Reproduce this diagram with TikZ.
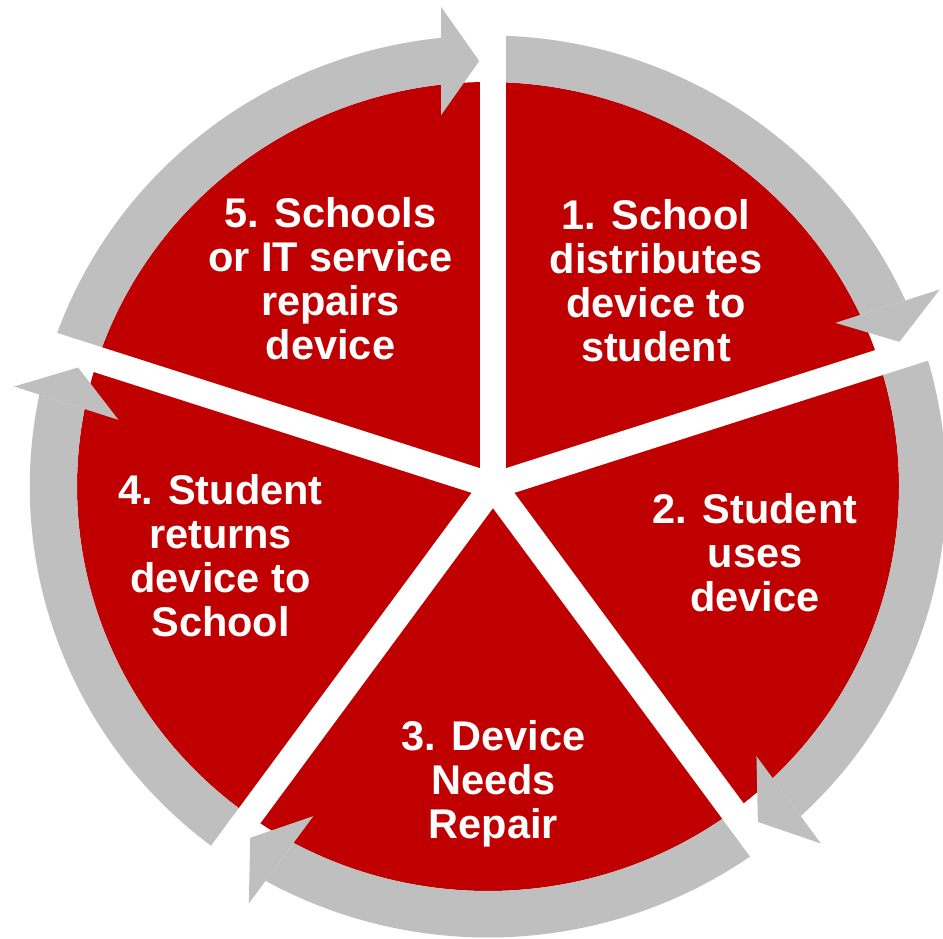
\documentclass[tikz,border=0pt]{standalone}
\usepackage{fontspec}
\setmainfont{Liberation Sans}
\definecolor{slicered}{RGB}{192,0,0}
\definecolor{ringgrey}{RGB}{191,191,191}
\begin{document}
\begin{tikzpicture}[x=1pt,y=-1pt,
  steptext/.style={text=white, font=\fontsize{41.5}{44}\selectfont\bfseries,
    align=center, inner sep=0pt, anchor=base}]
\useasboundingbox (0,0) rectangle (943,939);
% pie, circular arrows and the white separators (y upwards inside)
\begin{scope}[shift={(488,486.5)}, xscale=1.016, x=1pt, y=1pt]
  \fill[slicered] (0,0) circle[radius=404.5];
  \foreach \g in {90,18,-54,-126,-198} {
    % ring segment that ends at the back of its arrowhead
    \begin{scope}
      \clip[shift={(4.9,0.5)}, rotate=\g] (-600,51) rectangle (600,600);
      \fill[ringgrey] (\g:451) arc[start angle=\g, end angle=\g+72, radius=451]
        -- (\g+72:404.5) arc[start angle=\g+72, end angle=\g, radius=404.5] -- cycle;
    \end{scope}
    % arrowhead
    \fill[ringgrey, shift={(4.9,0.5)}, rotate=\g]
      (425,13.5) -- (371,51) -- (479,51) -- cycle;
  }
  \foreach \g in {90,18,-54,-126,-198}
    \fill[white, shift={(4.9,0.5)}, rotate=\g] (0,-13) rectangle (560,13);
\end{scope}
% step labels (placed on the baseline of their last line)
\node[steptext] (s1) at (656,361.3) {1. School\\distributes\\device to\\student};
\node[steptext] (s2) at (755,611) {2. Student\\uses\\device};
\node[steptext] (s3) at (493.5,838.3) {3. Device\\Needs\\Repair};
\node[steptext] (s4) at (220.5,636) {4. Student\\returns\\device to\\School};
\node[steptext] (s5) at (330.5,359.5) {5. Schools\\or IT service\\repairs\\device};
\end{tikzpicture}
\end{document}
